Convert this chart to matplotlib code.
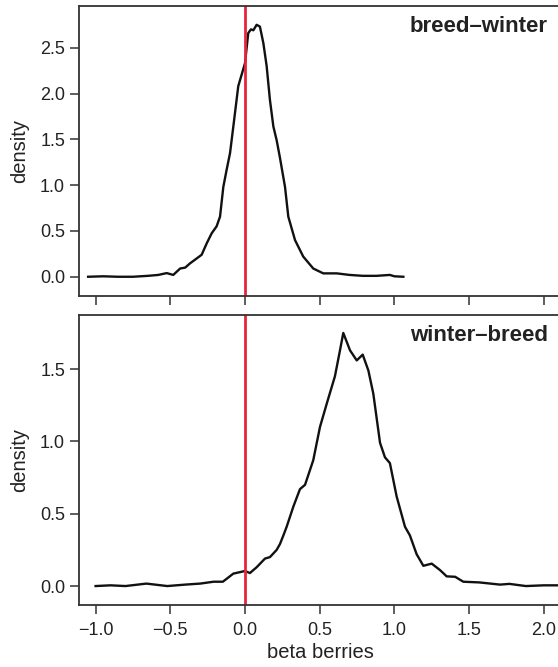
import matplotlib
matplotlib.use("Agg")
import matplotlib.pyplot as plt

plt.rcParams['font.family'] = ['Liberation Sans', 'DejaVu Sans']

# breed-winter posterior density
bw_x = [-1.05, -0.95, -0.85, -0.75, -0.65, -0.58, -0.524, -0.48, -0.434, -0.40, -0.368,
        -0.323, -0.29, -0.256, -0.223, -0.19, -0.167, -0.145, -0.123, -0.10, -0.078,
        -0.045, 0.0, 0.022, 0.04, 0.056, 0.078, 0.10, 0.123, 0.145, 0.167, 0.19, 0.212,
        0.234, 0.268, 0.29, 0.335, 0.39, 0.457, 0.524, 0.614, 0.70, 0.79, 0.88, 0.97, 1.0, 1.06]
bw_y = [0.0, 0.005, 0.0, 0.0, 0.01, 0.02, 0.04, 0.02, 0.09, 0.10, 0.146,
        0.20, 0.24, 0.365, 0.474, 0.55, 0.656, 0.98, 1.166, 1.35, 1.64,
        2.08, 2.33, 2.66, 2.70, 2.69, 2.75, 2.73, 2.55, 2.30, 1.93, 1.64, 1.49,
        1.30, 0.98, 0.656, 0.40, 0.22, 0.09, 0.037, 0.037, 0.02, 0.01, 0.01, 0.02, 0.005, 0.0]

# winter-breed posterior density
wb_x = [-1.0, -0.9, -0.8, -0.66, -0.52, -0.40, -0.30, -0.21, -0.148, -0.078, 0.0, 0.033,
        0.078, 0.134, 0.167, 0.212, 0.234, 0.257, 0.279, 0.324, 0.368, 0.402, 0.457, 0.502,
        0.547, 0.602, 0.636, 0.658, 0.703, 0.748, 0.788, 0.826, 0.859, 0.904, 0.937, 0.97,
        1.015, 1.071, 1.104, 1.149, 1.194, 1.25, 1.306, 1.35, 1.407, 1.461, 1.57, 1.707,
        1.77, 1.88, 2.0, 2.13]
wb_y = [0.0, 0.005, 0.0, 0.017, 0.0, 0.01, 0.017, 0.03, 0.03, 0.086, 0.104, 0.09,
        0.13, 0.19, 0.20, 0.25, 0.29, 0.35, 0.41, 0.55, 0.67, 0.70, 0.87, 1.10,
        1.26, 1.45, 1.63, 1.75, 1.63, 1.56, 1.60, 1.49, 1.33, 0.99, 0.89, 0.85,
        0.62, 0.41, 0.35, 0.22, 0.14, 0.155, 0.11, 0.067, 0.064, 0.03, 0.025, 0.01,
        0.015, 0.0, 0.005, 0.005]

panel_labels = ["breed\u2013winter", "winter\u2013breed"]
x_ticks = [-1.0, -0.5, 0.0, 0.5, 1.0, 1.5, 2.0]
top_yticks = [0.0, 0.5, 1.0, 1.5, 2.0, 2.5]
bot_yticks = [0.0, 0.5, 1.0, 1.5]

W, H = 558, 667
fig = plt.figure(figsize=(W / 100, H / 100), dpi=100)

left = 79 / W
right_px = 562
width = (right_px - 79) / W
ax1 = fig.add_axes([left, 1 - 296 / H, width, 290 / H])
ax2 = fig.add_axes([left, 1 - 605 / H, width, 290 / H])

spine_c = '#333333'
text_c = '#222222'
red = '#e8243c'

for ax, xs, ys, lab, yt, ylim in [
        (ax1, bw_x, bw_y, panel_labels[0], top_yticks, (-0.21, 2.955)),
        (ax2, wb_x, wb_y, panel_labels[1], bot_yticks, (-0.131, 1.874))]:
    ax.plot(xs, ys, color='#111111', lw=1.7, solid_joinstyle='round')
    ax.axvline(0.0, color=red, lw=2.0)
    ax.set_xlim(-1.111, 2.122)
    ax.set_ylim(*ylim)
    ax.set_xticks(x_ticks)
    ax.set_yticks(yt)
    ax.set_yticklabels([f"{v:.1f}" for v in yt])
    for s in ax.spines.values():
        s.set_color(spine_c)
        s.set_linewidth(1.3)
    ax.tick_params(direction='out', length=6.5, width=1.1, color=spine_c,
                   labelsize=13, labelcolor=text_c)
    ax.tick_params(axis='y', pad=3.5)
    ax.tick_params(axis='x', pad=5.5)
    ax.set_ylabel('density', fontsize=14.5, color=text_c, labelpad=8)
    ax.text(0.971, 1 - 10 / 290, lab, transform=ax.transAxes, ha='right', va='top',
            fontsize=16, fontweight='bold', color=text_c)

ax1.tick_params(labelbottom=False)
ax2.set_xticklabels([f"{v:.1f}".replace('-', '\u2212') for v in x_ticks])
ax2.set_xlabel('beta berries', fontsize=14.5, color=text_c, labelpad=3)

fig.savefig('out.png', dpi=100)
